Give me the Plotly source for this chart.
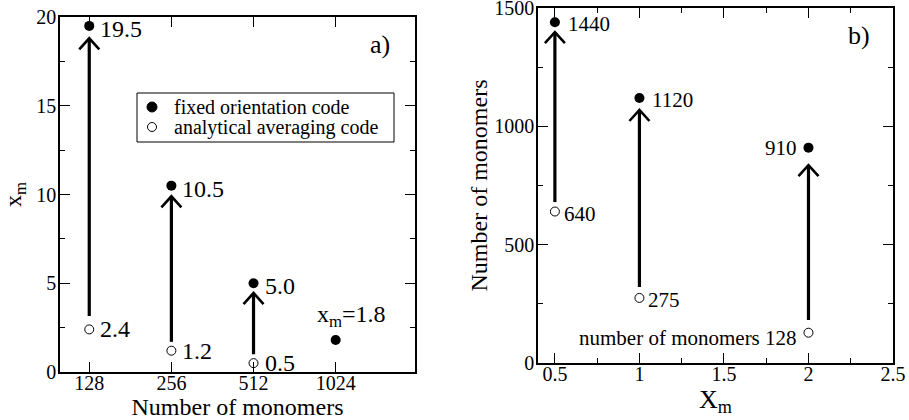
import numpy as np
import plotly.graph_objects as go

# ---------------- data ----------------
# panel a)
monomers = [128, 256, 512, 1024]
xm_fixed = [19.5, 10.5, 5.0, 1.8]
monomers_analytic = [128, 256, 512]
xm_analytic = [2.4, 1.2, 0.5]
arrow_a_from = [3.15, 1.7, 1.0]
arrow_a_to = [18.8, 9.9, 4.45]
labels_fixed_a = ["19.5", "10.5", "5.0"]
labels_analytic_a = ["2.4", "1.2", "0.5"]
monomer_ticks = [128, 256, 512, 1024]
legend_labels = ["fixed orientation code", "analytical averaging code"]

# panel b)
xm_b = [0.5, 1.0, 2.0]
n_fixed_b = [1440, 1120, 910]
n_analytic_b = [640, 275, 128]
arrow_b_from = [680, 321, 182]
arrow_b_to = [1398, 1069, 836]
labels_fixed_b = ["1440", "1120", "910"]
labels_analytic_b = ["640", "275", "number of monomers 128"]

# ---------------- layout geometry ----------------
W, H = 909, 420
FONT = "Liberation Serif, Times New Roman, serif"
xa_dom = [60 / W, 415 / W]
ya_dom = [(H - 372) / H, (H - 17) / H]
xb_dom = [538 / W, 893 / W]
yb_dom = [(H - 363) / H, (H - 8) / H]

xa_range_log = [2.0, np.log10(2000)]
ya_range = [0, 20]
xb_range = [0.4, 2.5]
yb_range = [0, 1500]

pa_w = (xa_dom[1] - xa_dom[0]) * W
pa_h = (ya_dom[1] - ya_dom[0]) * H
pb_w = (xb_dom[1] - xb_dom[0]) * W
pb_h = (yb_dom[1] - yb_dom[0]) * H

HEAD_HALF_W = 10  # px
HEAD_H = 11  # px

fig = go.Figure()


def add_arrows(xs, y0s, y1s, xaxis, yaxis, log_x, x_per_px, y_per_px):
    lx, ly, cx, cy = [], [], [], []
    for x, a, b in zip(xs, y0s, y1s):
        lx += [x, x, None]
        ly += [a, b, None]
        if log_x:
            f = 10 ** (HEAD_HALF_W * x_per_px)
            xl, xr = x / f, x * f
        else:
            xl, xr = x - HEAD_HALF_W * x_per_px, x + HEAD_HALF_W * x_per_px
        cx += [xl, x, xr, None]
        cy += [b - HEAD_H * y_per_px, b, b - HEAD_H * y_per_px, None]
    fig.add_trace(go.Scatter(x=lx, y=ly, mode="lines", line=dict(color="black", width=3.2),
                             xaxis=xaxis, yaxis=yaxis, showlegend=False, hoverinfo="skip"))
    fig.add_trace(go.Scatter(x=cx, y=cy, mode="lines", line=dict(color="black", width=2.6),
                             xaxis=xaxis, yaxis=yaxis, showlegend=False, hoverinfo="skip"))


add_arrows(monomers_analytic, arrow_a_from, arrow_a_to, "x", "y", True,
           (xa_range_log[1] - xa_range_log[0]) / pa_w, (ya_range[1] - ya_range[0]) / pa_h)
add_arrows(xm_b, arrow_b_from, arrow_b_to, "x2", "y2", False,
           (xb_range[1] - xb_range[0]) / pb_w, (yb_range[1] - yb_range[0]) / pb_h)

filled = dict(symbol="circle", size=10, color="black", line=dict(width=0))
opened = dict(symbol="circle", size=9, color="white", line=dict(color="black", width=1))

fig.add_trace(go.Scatter(x=monomers, y=xm_fixed, mode="markers", marker=filled,
                         name=legend_labels[0], showlegend=False, xaxis="x", yaxis="y"))
fig.add_trace(go.Scatter(x=monomers_analytic, y=xm_analytic, mode="markers", marker=opened,
                         name=legend_labels[1], showlegend=False, xaxis="x", yaxis="y"))
fig.add_trace(go.Scatter(x=xm_b, y=n_fixed_b, mode="markers", marker=filled,
                         showlegend=False, xaxis="x2", yaxis="y2"))
fig.add_trace(go.Scatter(x=xm_b, y=n_analytic_b, mode="markers", marker=opened,
                         showlegend=False, xaxis="x2", yaxis="y2"))

ann = []
afont = dict(family=FONT, size=24, color="black")
bfont = dict(family=FONT, size=21, color="black")

for x, y, t in zip(monomers, xm_fixed, labels_fixed_a):
    ann.append(dict(x=np.log10(x), y=y, xref="x", yref="y", text=t, showarrow=False,
                    xanchor="left", yanchor="middle", xshift=9, yshift=-3, font=afont))
for x, y, t in zip(monomers_analytic, xm_analytic, labels_analytic_a):
    ann.append(dict(x=np.log10(x), y=y, xref="x", yref="y", text=t, showarrow=False,
                    xanchor="left", yanchor="middle", xshift=9, yshift=0, font=afont))
ann.append(dict(x=np.log10(monomers[3]), y=xm_fixed[3], xref="x", yref="y",
                text="x<sub>m</sub>=%.1f" % xm_fixed[3], showarrow=False,
                xanchor="center", yanchor="middle", xshift=16, yshift=24, font=afont))
ann.append(dict(x=380 / W, y=1 - 45 / H, xref="paper", yref="paper", text="a)", showarrow=False,
                xanchor="center", yanchor="middle", font=dict(family=FONT, size=26, color="black")))

for i, (x, y, t) in enumerate(zip(xm_b, n_fixed_b, labels_fixed_b)):
    if i < 2:
        ann.append(dict(x=x, y=y, xref="x2", yref="y2", text=t, showarrow=False,
                        xanchor="left", yanchor="middle", xshift=11, yshift=-2, font=bfont))
    else:
        ann.append(dict(x=x, y=y, xref="x2", yref="y2", text=t, showarrow=False,
                        xanchor="right", yanchor="middle", xshift=-9, yshift=0, font=bfont))
for i, (x, y, t) in enumerate(zip(xm_b, n_analytic_b, labels_analytic_b)):
    if i < 2:
        ann.append(dict(x=x, y=y, xref="x2", yref="y2", text=t, showarrow=False,
                        xanchor="left", yanchor="middle", xshift=7, yshift=-2, font=bfont))
    else:
        ann.append(dict(x=x, y=y, xref="x2", yref="y2", text=t, showarrow=False,
                        xanchor="right", yanchor="middle", xshift=-9, yshift=-5, font=bfont))
ann.append(dict(x=859 / W, y=1 - 35 / H, xref="paper", yref="paper", text="b)", showarrow=False,
                xanchor="center", yanchor="middle", font=dict(family=FONT, size=26, color="black")))

# ---- legend box (panel a) ----
LX0, LX1, LY0, LY1 = 137, 394, 93, 142
shapes = [dict(type="rect", xref="paper", yref="paper", x0=LX0 / W, x1=LX1 / W,
               y0=1 - LY1 / H, y1=1 - LY0 / H, line=dict(color="black", width=1),
               fillcolor="white", layer="above")]
for k, (lab, st) in enumerate(zip(legend_labels, [filled, opened])):
    cy = 107 + 20 * k
    r = st["size"] / 2
    shapes.append(dict(type="circle", xref="paper", yref="paper",
                       x0=(152 - r) / W, x1=(152 + r) / W, y0=1 - (cy + r) / H, y1=1 - (cy - r) / H,
                       fillcolor=st["color"], line=dict(color="black", width=1), layer="above"))
    ann.append(dict(x=172 / W, y=1 - cy / H, xref="paper", yref="paper", text=lab,
                    showarrow=False, xanchor="left", yanchor="middle",
                    font=dict(family=FONT, size=20, color="black")))

tickfont = dict(family=FONT, size=20, color="black")
titlefont = dict(family=FONT, size=24, color="black")
common = dict(showline=True, linecolor="black", linewidth=1.5, mirror="allticks",
              ticks="inside", ticklen=10, tickwidth=1, tickcolor="black",
              showgrid=False, zeroline=False, tickfont=tickfont, automargin=False,
              ticklabeloverflow="allow")

fig.update_layout(
    width=W, height=H, margin=dict(l=0, r=0, t=0, b=0),
    paper_bgcolor="white", plot_bgcolor="white",
    font=dict(family=FONT, color="black"),
    showlegend=False,
    xaxis=dict(domain=xa_dom, type="log", range=xa_range_log, tickvals=monomer_ticks,
               ticktext=[str(v) for v in monomer_ticks], anchor="y", ticklabelstandoff=-8,
               title=dict(text="Number of monomers", font=titlefont, standoff=3), **common),
    yaxis=dict(domain=ya_dom, range=ya_range, dtick=5, anchor="x", ticklabelstandoff=-2,
               minor=dict(dtick=2.5, ticklen=5, ticks="inside", tickcolor="black"),
               title=dict(text="x<sub>m</sub>", font=titlefont, standoff=8), **common),
    xaxis2=dict(domain=xb_dom, range=xb_range, tickvals=[0.5, 1, 1.5, 2, 2.5], anchor="y2",
                ticklabelstandoff=-8,
                minor=dict(dtick=0.25, ticklen=5, ticks="inside", tickcolor="black"),
                title=dict(text="X<sub>m</sub>", font=dict(family=FONT, size=26, color="black"), standoff=0),
                **common),
    yaxis2=dict(domain=yb_dom, range=yb_range, dtick=500, anchor="x2", ticklabelstandoff=-2,
                minor=dict(dtick=250, ticklen=5, ticks="inside", tickcolor="black"),
                title=dict(text="Number of monomers", font=titlefont, standoff=0), **common),
    annotations=ann,
    shapes=shapes,
)

fig.write_html("out.html", config={"displayModeBar": False},
               post_script="document.body.style.margin='0px';")
